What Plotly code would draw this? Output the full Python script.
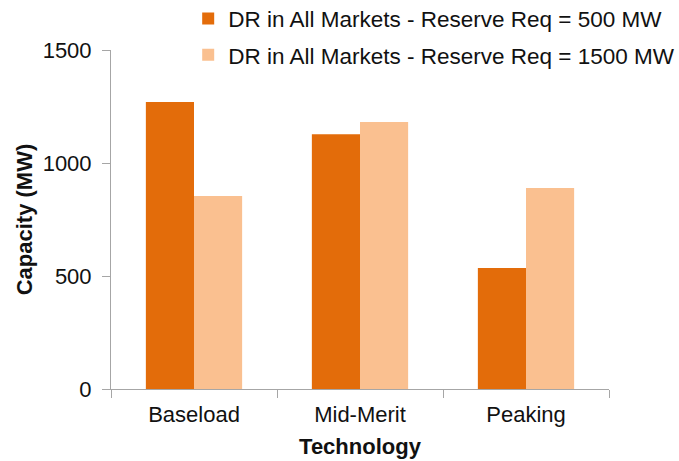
import plotly.graph_objects as go

# Installed capacity by technology under two reserve requirements
technologies = ["Baseload", "Mid-Merit", "Peaking"]
reserve_500 = [1270, 1127, 535]
reserve_1500 = [854, 1181, 889]
series_names = [
    "DR in All Markets - Reserve Req = 500 MW",
    "DR in All Markets - Reserve Req = 1500 MW",
]
y_ticks = [0, 500, 1000, 1500]

FONT = "Liberation Sans, Arial, sans-serif"

fig = go.Figure()
fig.add_trace(go.Bar(x=technologies, y=reserve_500, name=series_names[0],
                     legendgroup="a",
                     marker=dict(color="#E36C0A", line=dict(width=0))))
fig.add_trace(go.Bar(x=technologies, y=reserve_1500, name=series_names[1],
                     legendgroup="b",
                     marker=dict(color="#FAC090", line=dict(width=0))))

fig.update_layout(
    width=679, height=461,
    margin=dict(l=111, r=70, t=50, b=72, autoexpand=False),
    paper_bgcolor="white", plot_bgcolor="white",
    barmode="group", bargap=0.42, bargroupgap=0,
    font=dict(family=FONT, size=22, color="#111111"),
    showlegend=True,
    legend=dict(x=0.155, y=1.155, xanchor="left", yanchor="top",
                font=dict(size=22.5), itemwidth=30,
                traceorder="grouped", tracegroupgap=4,
                bgcolor="rgba(0,0,0,0)"),
    xaxis=dict(
        showline=True, linecolor="#A6A6A6", linewidth=1,
        ticks="outside", tickson="boundaries", ticklen=8, tickcolor="#A6A6A6",
        ticklabelstandoff=6,
        tickfont=dict(size=22),
        title=dict(text="<b>Technology</b>", font=dict(size=22), standoff=12),
    ),
    yaxis=dict(
        range=[0, 1500], tickvals=y_ticks, showgrid=False, zeroline=False,
        showline=True, linecolor="#A6A6A6", linewidth=1,
        ticks="outside", ticklen=8, tickcolor="#A6A6A6",
        ticklabelstandoff=6,
        tickfont=dict(size=22),
        title=dict(text="<b>Capacity (MW)</b>", font=dict(size=22), standoff=3),
    ),
)

fig.write_html("out.html")
